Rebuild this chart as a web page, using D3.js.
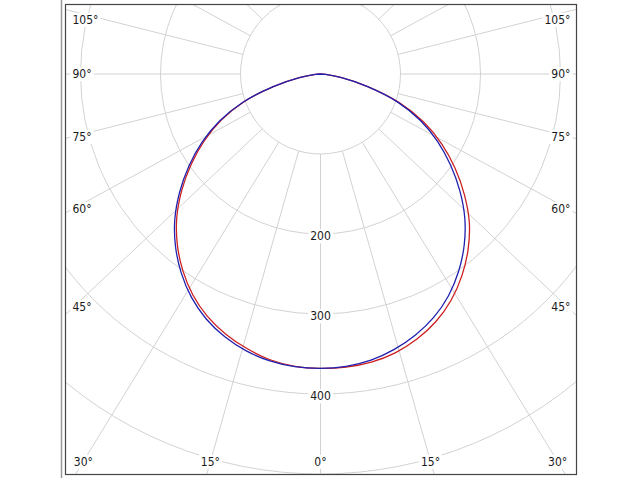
<!DOCTYPE html>
<html><head><meta charset="utf-8">
<script src="https://cdn.jsdelivr.net/npm/d3@7"></script>
<style>body{margin:0;background:#fff}svg{display:block}text{font-family:"DejaVu Sans Condensed","DejaVu Sans",sans-serif;font-size:12px;fill:#1a1a1a}</style>
</head><body><svg id="c" width="640" height="478"></svg>
<script>
// gamma angles (deg from nadir) and luminous intensity values (cd/klm)
const gammaAngles = [0,5,10,15,20,25,30,35,40,45,50,55,60,65,70,75,80,85,90];
const redLeft   = [368,366.8,362.7,355.3,346.1,334.4,319,300,278.4,254.1,226.4,197.4,168.1,137.2,102.2,61,26.8,6.4,0];
const redRight  = [368,367.8,365.7,360.8,352.6,341.4,326.5,308,286.9,263.1,234.9,205.4,175.1,142.2,104.7,61,26.8,6.4,0];
const blueLeft  = [368,367.3,364.2,358.3,349.6,337.9,322.5,303.5,281.9,257.6,229.9,200.9,171.1,139.2,103.2,61,26.8,6.4,0];
const blueRight = [368,366.8,363.2,356.3,347.1,335.4,320,301,279.4,255.1,227.4,198.4,169.1,138.2,102.7,61,26.8,6.4,0];
const ringValues = [100,200,300,400,500,600,700];
const valueLabels = [200,300,400];
const rayAngles = d3.range(0,360,15);
const sideLabels = [45,60,75,90,105];
const bottomLabels = [0,15,30];

const svg = d3.select('#c');
const fr = {x0:65.5, y0:4.5, x1:576.5, y1:474.5};
const cx = 320.5, cy = 74;
const rScale = d3.scaleLinear().domain([0,100]).range([0,80]);
const kx = 1.06; // horizontal stretch of the angle grid
const rad = d => d*Math.PI/180;
const phiOf = a => Math.atan2(kx*Math.sin(rad(a)), Math.cos(rad(a)));

svg.append('defs').append('clipPath').attr('id','clip')
  .append('rect').attr('x',fr.x0).attr('y',fr.y0).attr('width',fr.x1-fr.x0).attr('height',fr.y1-fr.y0);

const grid = svg.append('g').attr('clip-path','url(#clip)')
  .attr('fill','none').attr('stroke','#d2d2d2').attr('stroke-width',1);
grid.selectAll('circle').data(ringValues).join('circle')
  .attr('cx',cx).attr('cy',cy).attr('r',d=>rScale(d));
grid.selectAll('line').data(rayAngles).join('line')
  .each(function(a){
    const p = phiOf(a), r0 = rScale(100), r1 = 1000;
    d3.select(this)
      .attr('x1',cx + r0*Math.sin(p)).attr('y1',cy + r0*Math.cos(p))
      .attr('x2',cx + r1*Math.sin(p)).attr('y2',cy + r1*Math.cos(p));
  });

// curves
function pts(left,right){
  const out = [];
  for(let i=gammaAngles.length-1;i>=0;i--) out.push([-gammaAngles[i], left[i]]);
  for(let i=1;i<gammaAngles.length;i++) out.push([gammaAngles[i], right[i]]);
  return out;
}
const line = d3.line()
  .x(d=>cx + rScale(d[1])*Math.sin(rad(d[0])))
  .y(d=>cy + rScale(d[1])*Math.cos(rad(d[0])))
  .curve(d3.curveCatmullRom.alpha(0.5));
const cg = svg.append('g').attr('clip-path','url(#clip)').attr('fill','none').attr('stroke-width',1.3);
cg.append('path').attr('d',line(pts(redLeft,redRight))).attr('stroke','#cc2020');
cg.append('path').attr('d',line(pts(blueLeft,blueRight))).attr('stroke','#2020b0');

// frame
svg.append('line').attr('x1',61.5).attr('x2',61.5).attr('y1',0).attr('y2',478)
  .attr('stroke','#999').attr('stroke-width',1.5);
svg.append('rect').attr('x',fr.x0).attr('y',fr.y0).attr('width',fr.x1-fr.x0).attr('height',fr.y1-fr.y0)
  .attr('fill','none').attr('stroke','#444').attr('stroke-width',1.2);

// labels
const lg = svg.append('g');
function label(x,y,txt,anchor){
  const g = lg.append('g');
  const t = g.append('text').attr('x',x).attr('y',y).attr('dy','0.36em')
    .attr('text-anchor',anchor).text(txt);
  const b = t.node().getBBox();
  g.insert('rect','text').attr('x',b.x-2).attr('y',b.y).attr('width',b.width+4).attr('height',b.height)
    .attr('fill','#fff');
}
sideLabels.forEach(a=>{
  const p = phiOf(a);
  const dx = cx - (fr.x0+8);
  let y = cy + dx/Math.sin(p)*Math.cos(p);
  y = Math.max(y, fr.y0+15);
  label(fr.x0+7, y, a+'°', 'start');
  label(fr.x1-6, y, a+'°', 'end');
});
bottomLabels.forEach(a=>{
  const p = phiOf(a);
  const y = fr.y1-13;
  const dx = (y-cy)*Math.tan(p);
  label(cx-dx, y, a+'°', 'middle');
  if(a!==0) label(cx+dx, y, a+'°', 'middle');
});
valueLabels.forEach(v=>label(cx, cy+rScale(v)+2, String(v), 'middle'));
</script></body></html>
